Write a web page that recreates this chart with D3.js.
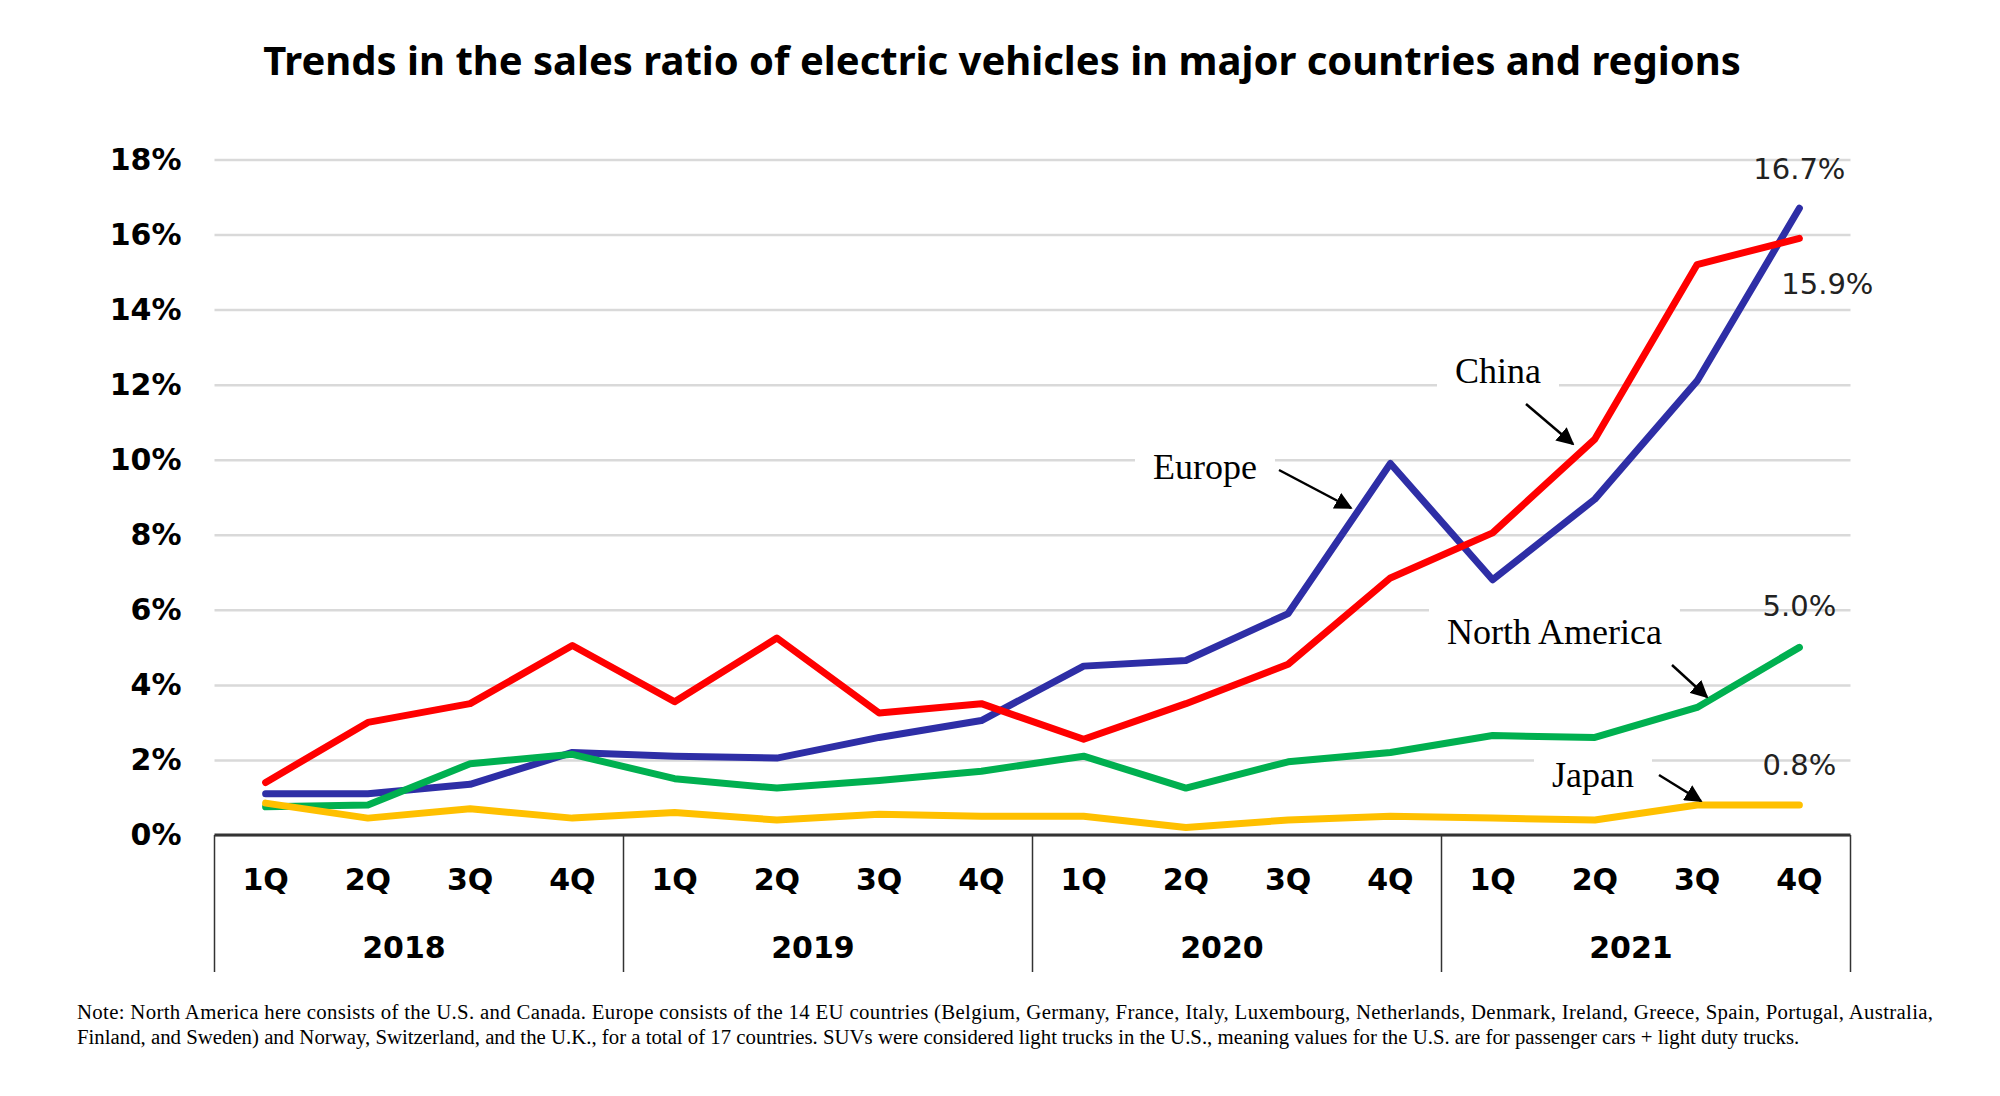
<!DOCTYPE html>
<html>
<head>
<meta charset="utf-8">
<script src="https://cdn.jsdelivr.net/npm/d3@7"></script>
<style>
  body { margin: 0; background: #fff; }
</style>
</head>
<body>
<div class="chart"></div>
<script>
// quarters and years on the x axis
const quarters = ["1Q", "2Q", "3Q", "4Q"];
const years = ["2018", "2019", "2020", "2021"];
const yTicks = [0, 2, 4, 6, 8, 10, 12, 14, 16, 18];

// sales ratio (%) per quarter, 1Q2018 .. 4Q2021
const europe = [1.1, 1.1, 1.35, 2.2, 2.1, 2.05, 2.6, 3.05, 4.5, 4.65, 5.9, 9.9, 6.8, 8.95, 12.1, 16.7];
const china = [1.4, 3.0, 3.5, 5.05, 3.55, 5.25, 3.25, 3.5, 2.55, 3.5, 4.55, 6.85, 8.05, 10.55, 15.2, 15.9];
const northAmerica = [0.75, 0.8, 1.9, 2.15, 1.5, 1.25, 1.45, 1.7, 2.1, 1.25, 1.95, 2.2, 2.65, 2.6, 3.4, 5.0];
const japan = [0.85, 0.45, 0.7, 0.45, 0.6, 0.4, 0.55, 0.5, 0.5, 0.2, 0.4, 0.5, 0.45, 0.4, 0.8, 0.8];

const note1 = "Note: North America here consists of the U.S. and Canada. Europe consists of the 14 EU countries (Belgium, Germany, France, Italy, Luxembourg, Netherlands, Denmark, Ireland, Greece, Spain, Portugal, Australia,";
const note2 = "Finland, and Sweden) and Norway, Switzerland, and the U.K., for a total of 17 countries. SUVs were considered light trucks in the U.S., meaning values for the U.S. are for passenger cars + light duty trucks.";

const periods = [];
years.forEach(y => quarters.forEach(q => periods.push(y + "-" + q)));

const series = [
    {name: "Europe", values: europe, color: "#2e2ea6"},
    {name: "North America", values: northAmerica, color: "#00b050"},
    {name: "Japan", values: japan, color: "#ffc000"},
    {name: "China", values: china, color: "#ff0000"}
];

const W = 2000, H = 1096;
const plotLeft = 214.5, plotRight = 1850.5, plotTop = 159.5, plotBottom = 835;

const svg = d3.select('.chart')
    .append('svg')
    .attr('width', W)
    .attr('height', H);

const xScale = d3.scaleBand()
    .domain(periods)
    .range([plotLeft, plotRight]);

const yearScale = d3.scaleBand()
    .domain(years)
    .range([plotLeft, plotRight]);

const yScale = d3.scaleLinear()
    .domain([0, 18])
    .range([plotBottom, plotTop]);

// title
svg.append("text")
    .attr("x", 1002)
    .attr("y", 75)
    .attr("text-anchor", "middle")
    .attr("font-family", "'Noto Sans', sans-serif")
    .attr("font-weight", "bold")
    .attr("font-size", 40)
    .text("Trends in the sales ratio of electric vehicles in major countries and regions");

// gridlines + y labels
const yAxis = d3.axisLeft(yScale)
    .tickValues(yTicks)
    .tickSize(-(plotRight - plotLeft))
    .tickPadding(33)
    .tickFormat(d => d + "%");

svg.append("g")
    .attr("class", "axis y-axis")
    .attr("transform", "translate(" + plotLeft + ",0)")
    .call(yAxis)
    .call(g => g.select(".domain").remove())
    .call(g => g.selectAll(".tick line")
        .attr("stroke", "#d9d9d9")
        .attr("stroke-width", 2.5))
    .call(g => g.selectAll(".tick text")
        .attr("font-family", "'DejaVu Sans', Verdana, sans-serif")
        .attr("font-weight", "bold")
        .attr("font-size", 30)
        .attr("fill", "#000"));

// annotation words, with white boxes that cut the gridlines
const notes = [
    {text: "China", x: 1455, y: 383, ax1: 1526, ay1: 404, ax2: 1573, ay2: 444},
    {text: "Europe", x: 1153, y: 479, ax1: 1279, ay1: 470, ax2: 1351, ay2: 508},
    {text: "North America", x: 1447, y: 644, ax1: 1672, ay1: 665, ax2: 1707, ay2: 697},
    {text: "Japan", x: 1552, y: 787, ax1: 1659, ay1: 775, ax2: 1701, ay2: 801}
];

const noteG = svg.append("g");
noteG.selectAll("text")
    .data(notes)
    .enter()
    .append("text")
    .attr("x", d => d.x)
    .attr("y", d => d.y)
    .attr("font-family", "'Liberation Serif', 'Times New Roman', serif")
    .attr("font-size", 36)
    .text(d => d.text)
    .each(function(d) { d.w = this.getComputedTextLength(); });

noteG.selectAll("rect")
    .data(notes)
    .enter()
    .insert("rect", "text")
    .attr("x", d => d.x - 18)
    .attr("y", d => d.y - 40)
    .attr("width", d => d.w + 36)
    .attr("height", 52)
    .attr("fill", "#fff");

// bottom axis frame
svg.append("line")
    .attr("x1", plotLeft).attr("x2", plotRight)
    .attr("y1", plotBottom).attr("y2", plotBottom)
    .attr("stroke", "#333")
    .attr("stroke-width", 3);

const dividers = years.map(y => yearScale(y)).concat([plotRight]);
svg.selectAll(".divider")
    .data(dividers)
    .enter()
    .append("line")
    .attr("class", "divider")
    .attr("x1", d => d).attr("x2", d => d)
    .attr("y1", plotBottom).attr("y2", 972)
    .attr("stroke", "#333")
    .attr("stroke-width", 1.5);

svg.selectAll(".qlabel")
    .data(periods)
    .enter()
    .append("text")
    .attr("class", "qlabel")
    .attr("x", d => xScale(d) + xScale.bandwidth() / 2)
    .attr("y", 890)
    .attr("text-anchor", "middle")
    .attr("font-family", "'DejaVu Sans', Verdana, sans-serif")
    .attr("font-weight", "bold")
    .attr("font-size", 30)
    .text(d => d.split("-")[1]);

// year labels sit a little left of their band centre in the original
svg.selectAll(".ylabel")
    .data(years)
    .enter()
    .append("text")
    .attr("class", "ylabel")
    .attr("x", d => yearScale(d) + yearScale.bandwidth() / 2 - 15)
    .attr("y", 958)
    .attr("text-anchor", "middle")
    .attr("font-family", "'DejaVu Sans', Verdana, sans-serif")
    .attr("font-weight", "bold")
    .attr("font-size", 30)
    .text(d => d);

// lines
const line = d3.line()
    .x((d, i) => xScale(periods[i]) + xScale.bandwidth() / 2)
    .y(d => yScale(d));

svg.selectAll(".series")
    .data(series)
    .enter()
    .append("path")
    .attr("class", "series")
    .attr("d", d => line(d.values))
    .attr("fill", "none")
    .attr("stroke", d => d.color)
    .attr("stroke-width", 7)
    .attr("stroke-linejoin", "round")
    .attr("stroke-linecap", "round");

// arrows
svg.append("defs")
    .append("marker")
    .attr("id", "arrow")
    .attr("viewBox", "0 0 10 10")
    .attr("refX", 9)
    .attr("refY", 5)
    .attr("markerWidth", 7)
    .attr("markerHeight", 7)
    .attr("orient", "auto")
    .append("path")
    .attr("d", "M0,0 L10,5 L0,10 Z")
    .attr("fill", "#000");

svg.selectAll(".arrow")
    .data(notes)
    .enter()
    .append("line")
    .attr("class", "arrow")
    .attr("x1", d => d.ax1).attr("y1", d => d.ay1)
    .attr("x2", d => d.ax2).attr("y2", d => d.ay2)
    .attr("stroke", "#000")
    .attr("stroke-width", 2.5)
    .attr("marker-end", "url(#arrow)");

// end value labels
const last = periods[periods.length - 1];
const endX = xScale(last) + xScale.bandwidth() / 2;
const endLabels = [
    {v: europe[15], dx: 0, dy: -29},
    {v: china[15], dx: 28, dy: 56},
    {v: northAmerica[15], dx: 0, dy: -31},
    {v: japan[15], dx: 0, dy: -30}
];
svg.selectAll(".endlabel")
    .data(endLabels)
    .enter()
    .append("text")
    .attr("class", "endlabel")
    .attr("x", d => endX + d.dx)
    .attr("y", d => yScale(d.v) + d.dy)
    .attr("text-anchor", "middle")
    .attr("font-family", "'DejaVu Sans', sans-serif")
    .attr("font-size", 29)
    .attr("fill", "#222")
    .text(d => d3.format(".1f")(d.v) + "%");

// footnote, first line is justified to full width
svg.selectAll(".note")
    .data([note1, note2])
    .enter()
    .append("text")
    .attr("class", "note")
    .attr("x", 77)
    .attr("y", (d, i) => 1019 + i * 24.5)
    .attr("font-family", "'Liberation Serif', 'Times New Roman', serif")
    .attr("font-size", 20.8)
    .text(d => d)
    .filter((d, i) => i === 0)
    .attr("textLength", 1856)
    .attr("lengthAdjust", "spacing");
</script>
</body>
</html>
